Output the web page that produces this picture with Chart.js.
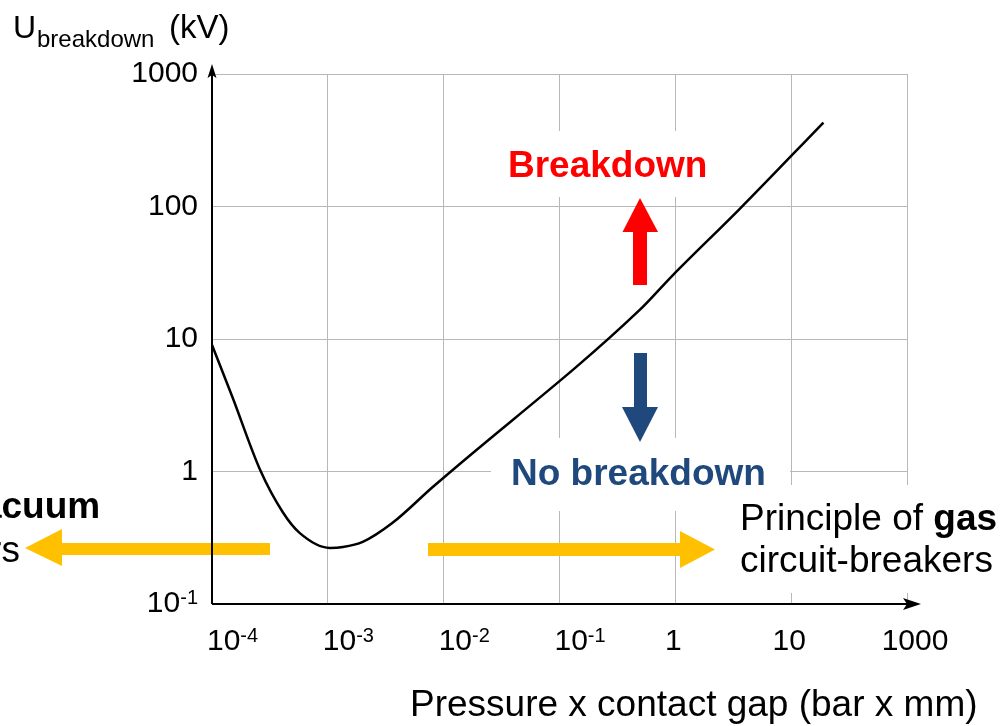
<!DOCTYPE html>
<html><head><meta charset="utf-8">
<script src="https://cdn.jsdelivr.net/npm/chart.js@4.4.1/dist/chart.umd.min.js"></script>
<style>html,body{margin:0;padding:0;background:#fff;overflow:hidden}#wrap{width:1002px;height:726px;position:relative}canvas{display:block}</style>
</head><body><div id="wrap"><canvas id="c" width="1002" height="726"></canvas></div>
<script>
// ---- data ----
const pdValues = [1e-4, 1.5e-4, 2.6e-4, 4.1e-4, 5.7e-4, 1.04e-3, 1.35e-3, 2.0e-3, 3.6e-3, 8.0e-3, 0.49, 0.94, 3.6, 19];
const ubValues = [9.0, 3.65, 1.03, 0.49, 0.344, 0.265, 0.269, 0.294, 0.408, 0.76, 16.5, 30, 96, 430];
const xTickValues = [1e-4, 1e-3, 1e-2, 1e-1, 1, 10, 100];
const xTickBase = ['10', '10', '10', '10', '1', '10', '1000'];
const xTickExp = ['-4', '-3', '-2', '-1', '', '', ''];
const yTickValues = [0.1, 1, 10, 100, 1000];
const yTickBase = ['10', '1', '10', '100', '1000'];
const yTickExp = ['-1', '', '', '', ''];
const xTitle = 'Pressure x contact gap (bar x mm)';
const yTitleMain = 'U', yTitleSub = 'breakdown', yTitleUnit = '(kV)';
const upLabel = 'Breakdown', downLabel = 'No breakdown';
const gasLine1 = ['Principle of ', 'gas'], gasLine2 = 'circuit-breakers';
const vacLine1 = ['Principle of ', 'vacuum'], vacLine2 = 'circuit-breakers';

const FF = '"Liberation Sans", Arial, Helvetica, sans-serif';
function font(size, bold) { return (bold ? 'bold ' : '') + size + 'px ' + FF; }
function runs(ctx, parts, x, y, align) {
  let w = 0;
  parts.forEach(p => { ctx.font = p.f; p.w = ctx.measureText(p.t).width; w += p.w + (p.gap || 0); });
  let cx = align === 'right' ? x - w : align === 'center' ? x - w / 2 : x;
  ctx.textAlign = 'left'; ctx.textBaseline = 'alphabetic';
  parts.forEach(p => { ctx.font = p.f; ctx.fillStyle = p.c || '#000'; ctx.fillText(p.t, cx, y + (p.dy || 0)); cx += p.w + (p.gap || 0); });
}
function poly(ctx, pts, color) {
  ctx.beginPath(); ctx.moveTo(pts[0][0], pts[0][1]);
  for (let i = 1; i < pts.length; i++) ctx.lineTo(pts[i][0], pts[i][1]);
  ctx.closePath(); ctx.fillStyle = color; ctx.fill();
}

const deco = {
  id: 'deco',
  beforeDatasetsDraw(chart) {
    const ctx = chart.ctx;
    ctx.save();
    ctx.fillStyle = '#fff';
    ctx.fillRect(495, 131, 225, 66);
    ctx.fillRect(491, 438, 299, 73);
    ctx.fillRect(735, 485, 267, 108);
    ctx.restore();
  },
  afterDatasetsDraw(chart) {
    const ctx = chart.ctx, a = chart.chartArea;
    const xs = chart.scales.x, ys = chart.scales.y;
    ctx.save();
    // orange arrows
    const OR = '#ffc000';
    ctx.fillStyle = OR;
    ctx.fillRect(62, 543, 208, 12);
    poly(ctx, [[62, 529], [62, 566], [25, 548]], OR);
    ctx.fillRect(428, 543, 253, 13);
    poly(ctx, [[680, 531], [680, 568], [715, 549.5]], OR);
    // red up arrow
    ctx.fillStyle = '#ff0000';
    ctx.fillRect(633, 231, 14, 54);
    poly(ctx, [[622.5, 232], [658, 232], [640, 198]], '#ff0000');
    // blue down arrow
    ctx.fillStyle = '#1f497d';
    ctx.fillRect(634, 353, 13, 55);
    poly(ctx, [[622, 407], [658, 407], [640, 442]], '#1f497d');
    // axes
    ctx.strokeStyle = '#000'; ctx.lineWidth = 2;
    ctx.beginPath(); ctx.moveTo(a.left, a.bottom); ctx.lineTo(a.left, 70); ctx.stroke();
    ctx.beginPath(); ctx.moveTo(a.left, a.bottom); ctx.lineTo(914, a.bottom); ctx.stroke();
    poly(ctx, [[a.left, 64], [a.left - 4.5, 78], [a.left, 75], [a.left + 4.5, 78]], '#000');
    poly(ctx, [[921, a.bottom], [903, a.bottom - 6], [907, a.bottom], [903, a.bottom + 6]], '#000');
    // tick labels
    xTickValues.forEach((v, i) => {
      const px = xs.getPixelForValue(v);
      const by = a.bottom + 46;
      if (xTickExp[i]) {
        runs(ctx, [{t: xTickBase[i], f: font(30)}, {t: xTickExp[i], f: font(20), dy: -8}], px - 5, by, 'left');
      } else {
        runs(ctx, [{t: xTickBase[i], f: font(30)}], px + (xTickBase[i].length > 2 ? 8 : -2), by, 'center');
      }
    });
    yTickValues.forEach((v, i) => {
      const py = ys.getPixelForValue(v);
      const parts = [{t: yTickBase[i], f: font(30)}];
      if (yTickExp[i]) parts.push({t: yTickExp[i], f: font(20), dy: -8});
      runs(ctx, parts, a.left - 14, py + 8, 'right');
    });
    // axis titles
    runs(ctx, [{t: xTitle, f: font(37)}], 410, 716, 'left');
    runs(ctx, [{t: yTitleMain, f: font(32)}], 13, 38, 'left');
    runs(ctx, [{t: yTitleSub, f: font(24)}], 37, 47, 'left');
    runs(ctx, [{t: yTitleUnit, f: font(33)}], 169, 38, 'left');
    // annotations
    runs(ctx, [{t: upLabel, f: font(37, true), c: '#ff0000'}], 508, 177, 'left');
    runs(ctx, [{t: downLabel, f: font(37, true), c: '#1f497d'}], 511, 485, 'left');
    runs(ctx, [{t: gasLine1[0], f: font(37)}, {t: gasLine1[1], f: font(37, true)}], 740, 530, 'left');
    runs(ctx, [{t: gasLine2, f: font(37)}], 740, 572, 'left');
    runs(ctx, [{t: vacLine1[0], f: font(37)}, {t: vacLine1[1], f: font(37, true)}], -233, 518, 'left');
    runs(ctx, [{t: vacLine2, f: font(37)}], -233, 562, 'left');
    ctx.restore();
  }
};

const gridOpts = {color: '#b8b8b8', lineWidth: 1, drawTicks: false};
new Chart(document.getElementById('c'), {
  type: 'scatter',
  data: {
    datasets: [{
      data: pdValues.map((x, i) => ({x: x, y: ubValues[i]})),
      showLine: true, borderColor: '#000', borderWidth: 2.5,
      pointRadius: 0, cubicInterpolationMode: 'monotone', clip: false
    }]
  },
  options: {
    responsive: false, animation: false, devicePixelRatio: 1,
    layout: {padding: {left: 212, right: 95, top: 74, bottom: 122}},
    plugins: {legend: {display: false}, tooltip: {enabled: false}},
    scales: {
      x: {type: 'logarithmic', min: 1e-4, max: 100,
          afterBuildTicks: s => { s.ticks = xTickValues.map(v => ({value: v})); },
          ticks: {display: false}, grid: gridOpts, border: {display: false}},
      y: {type: 'logarithmic', min: 0.1, max: 1000,
          afterBuildTicks: s => { s.ticks = yTickValues.map(v => ({value: v})); },
          ticks: {display: false}, grid: gridOpts, border: {display: false}}
    }
  },
  plugins: [deco]
});
</script></body></html>
